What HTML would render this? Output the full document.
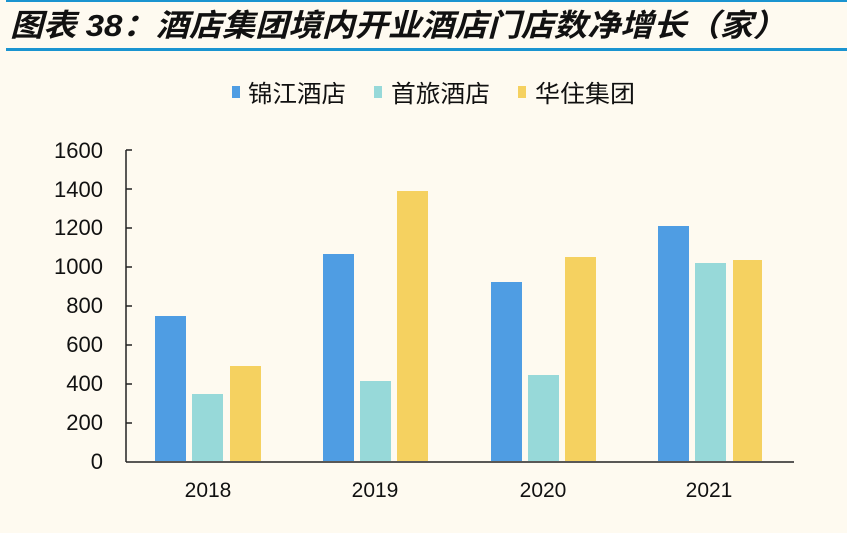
<!DOCTYPE html>
<html><head><meta charset="utf-8"><style>
html,body{margin:0;padding:0;background:#fefaf0;}
svg{display:block;}
</style></head><body>
<svg width="847" height="533" viewBox="0 0 847 533" xmlns="http://www.w3.org/2000/svg">
<rect width="847" height="533" fill="#fefaf0"/>
<rect x="6" y="0" width="841" height="2" fill="#1a94d0"/>
<rect x="6" y="48" width="841" height="3" fill="#1a94d0"/>
<text x="10" y="36" font-family="'Liberation Sans','Noto Sans CJK SC',sans-serif" font-size="31" font-style="italic" font-weight="bold" fill="#111" textLength="776" lengthAdjust="spacingAndGlyphs">图表 38：酒店集团境内开业酒店门店数净增长（家）</text>
<g font-family="'Liberation Sans','Noto Sans CJK SC',sans-serif" font-size="24" fill="#111">
<rect x="232" y="86" width="8" height="12" fill="#4f9de3"/><text x="248" y="102" textLength="98" lengthAdjust="spacingAndGlyphs">锦江酒店</text>
<rect x="374" y="86" width="8" height="12" fill="#97d9d9"/><text x="391" y="102" textLength="99" lengthAdjust="spacingAndGlyphs">首旅酒店</text>
<rect x="518" y="86" width="8" height="12" fill="#f5d160"/><text x="535" y="102" textLength="100" lengthAdjust="spacingAndGlyphs">华住集团</text>
</g>
<g font-family="'Liberation Sans',sans-serif" font-size="22" fill="#111" text-anchor="end">
<text x="103" y="469">0</text>
<text x="103" y="430">200</text>
<text x="103" y="391">400</text>
<text x="103" y="352">600</text>
<text x="103" y="313">800</text>
<text x="103" y="274">1000</text>
<text x="103" y="235">1200</text>
<text x="103" y="197">1400</text>
<text x="103" y="158">1600</text>
</g>
<g stroke="#222" stroke-width="1.5">
<line x1="126" y1="150" x2="126" y2="462"/>
<line x1="126" y1="462" x2="794" y2="462"/>
<line x1="126" y1="150" x2="132" y2="150"/>
<line x1="126" y1="189" x2="132" y2="189"/>
<line x1="126" y1="228" x2="132" y2="228"/>
<line x1="126" y1="267" x2="132" y2="267"/>
<line x1="126" y1="306" x2="132" y2="306"/>
<line x1="126" y1="345" x2="132" y2="345"/>
<line x1="126" y1="384" x2="132" y2="384"/>
<line x1="126" y1="423" x2="132" y2="423"/>
</g>
<g>
<rect x="155" y="316" width="31" height="145" fill="#4f9de3"/>
<rect x="192" y="394" width="31" height="67" fill="#97d9d9"/>
<rect x="230" y="366" width="31" height="95" fill="#f5d160"/>
<rect x="323" y="254" width="31" height="207" fill="#4f9de3"/>
<rect x="360" y="381" width="31" height="80" fill="#97d9d9"/>
<rect x="397" y="191" width="31" height="270" fill="#f5d160"/>
<rect x="491" y="282" width="31" height="179" fill="#4f9de3"/>
<rect x="528" y="375" width="31" height="86" fill="#97d9d9"/>
<rect x="565" y="257" width="31" height="204" fill="#f5d160"/>
<rect x="658" y="226" width="31" height="235" fill="#4f9de3"/>
<rect x="695" y="263" width="31" height="198" fill="#97d9d9"/>
<rect x="733" y="260" width="29" height="201" fill="#f5d160"/>
</g>
<g font-family="'Liberation Sans',sans-serif" font-size="21" fill="#111" text-anchor="middle">
<text x="208" y="497">2018</text>
<text x="375" y="497">2019</text>
<text x="543" y="497">2020</text>
<text x="709" y="497">2021</text>
</g>
</svg>
</body></html>
